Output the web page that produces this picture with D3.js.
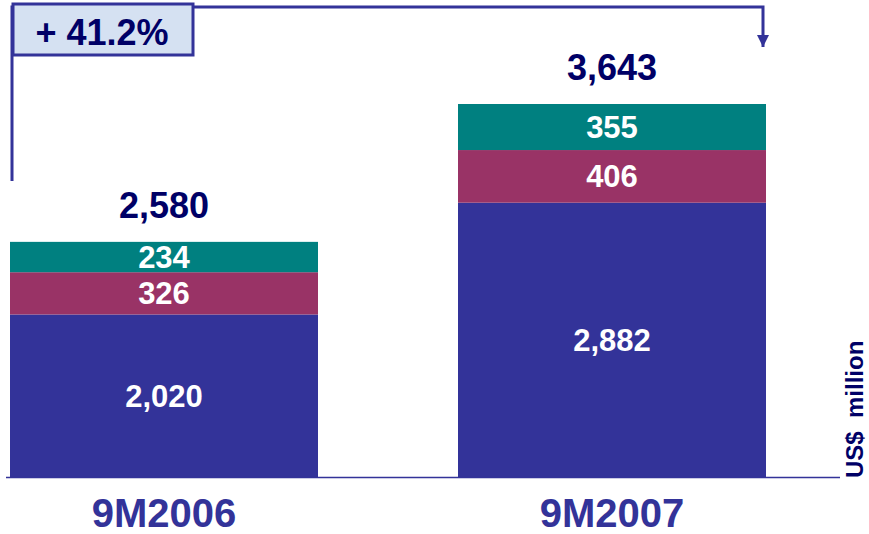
<!DOCTYPE html>
<html>
<head>
<meta charset="utf-8">
<script src="https://cdn.jsdelivr.net/npm/d3@7"></script>
<style>
  body { margin: 0; background: #fff; }
  text { font-family: "Liberation Sans", Arial, sans-serif; font-weight: bold; }
</style>
</head>
<body>
<div id="chart"></div>
<script>
// data
const periods = ["9M2006", "9M2007"];
const seriesNames = ["base", "middle", "top"];
const baseValues = [2020, 2882];
const middleValues = [326, 406];
const topValues = [234, 355];
const totals = [2580, 3643];
const growthLabel = "+ 41.2%";
const unitLabel = "US$  million";

const width = 869, height = 534;
const colors = { base: "#333399", middle: "#993366", top: "#008080" };

const rows = periods.map((p, i) => ({
  period: p, base: baseValues[i], middle: middleValues[i], top: topValues[i], total: totals[i]
}));

const svg = d3.select("#chart").append("svg")
  .attr("width", width).attr("height", height);

// scales (axis does not start at zero, as in the original slide)
const x = d3.scaleBand().domain(periods).range([10, 766]).paddingInner(0.3125);
const y = d3.scaleLinear().domain([767, 3643]).range([477, 104]);

const stack = d3.stack().keys(seriesNames)(rows);

svg.append("g").selectAll("g")
  .data(stack)
  .join("g")
  .attr("fill", d => colors[d.key])
  .selectAll("rect")
  .data(d => d)
  .join("rect")
  .attr("x", d => x(d.data.period))
  .attr("width", x.bandwidth())
  .attr("y", d => y(d[1]))
  .attr("height", d => y(Math.max(d[0], y.domain()[0])) - y(d[1]));

// segment labels
svg.append("g").selectAll("g")
  .data(stack)
  .join("g")
  .selectAll("text")
  .data(d => d.map(s => ({ s, key: d.key })))
  .join("text")
  .attr("x", d => x(d.s.data.period) + x.bandwidth() / 2)
  .attr("y", d => (y(Math.max(d.s[0], y.domain()[0])) + y(d.s[1])) / 2 + 11)
  .attr("text-anchor", "middle")
  .attr("fill", "#fff")
  .attr("font-size", 31)
  .text(d => d3.format(",")(d.s.data[d.key]));

// totals
svg.append("g").selectAll("text")
  .data(rows)
  .join("text")
  .attr("x", d => x(d.period) + x.bandwidth() / 2)
  .attr("y", d => y(d.total) - 24)
  .attr("text-anchor", "middle")
  .attr("fill", "#000066")
  .attr("font-size", 36)
  .text(d => d3.format(",")(d.total));

// baseline
svg.append("line")
  .attr("x1", 6).attr("x2", 840)
  .attr("y1", 477.5).attr("y2", 477.5)
  .attr("stroke", "#333399").attr("stroke-width", 1.5);

// category labels
svg.append("g").selectAll("text")
  .data(periods)
  .join("text")
  .attr("x", d => x(d) + x.bandwidth() / 2)
  .attr("y", 527)
  .attr("text-anchor", "middle")
  .attr("fill", "#333399")
  .attr("font-size", 40)
  .text(d => d);

// unit label
svg.append("text")
  .attr("transform", "translate(863,478) rotate(-90)")
  .attr("fill", "#000066")
  .attr("font-size", 24)
  .attr("xml:space", "preserve")
  .style("white-space", "pre")
  .text(unitLabel);

// growth arrow
const x0 = x(periods[0]) + 2;
const x1 = x(periods[1]) + x.bandwidth() - 3;
svg.append("defs").append("marker")
  .attr("id", "head")
  .attr("viewBox", "0 0 10 10")
  .attr("refX", 10).attr("refY", 5)
  .attr("markerWidth", 4).attr("markerHeight", 4.5)
  .attr("orient", "auto")
  .append("path")
  .attr("d", "M0,0L10,5L0,10Z")
  .attr("fill", "#333399");

svg.append("path")
  .attr("d", `M${x0},181V7H${x1}V47`)
  .attr("fill", "none")
  .attr("stroke", "#333399")
  .attr("stroke-width", 3)
  .attr("marker-end", "url(#head)");

svg.append("rect")
  .attr("x", 13).attr("y", 4)
  .attr("width", 180).attr("height", 51)
  .attr("fill", "#d5e1f2")
  .attr("stroke", "#333399")
  .attr("stroke-width", 3);

svg.append("text")
  .attr("x", 102).attr("y", 45)
  .attr("text-anchor", "middle")
  .attr("fill", "#000066")
  .attr("font-size", 36)
  .text(growthLabel);
</script>
</body>
</html>
